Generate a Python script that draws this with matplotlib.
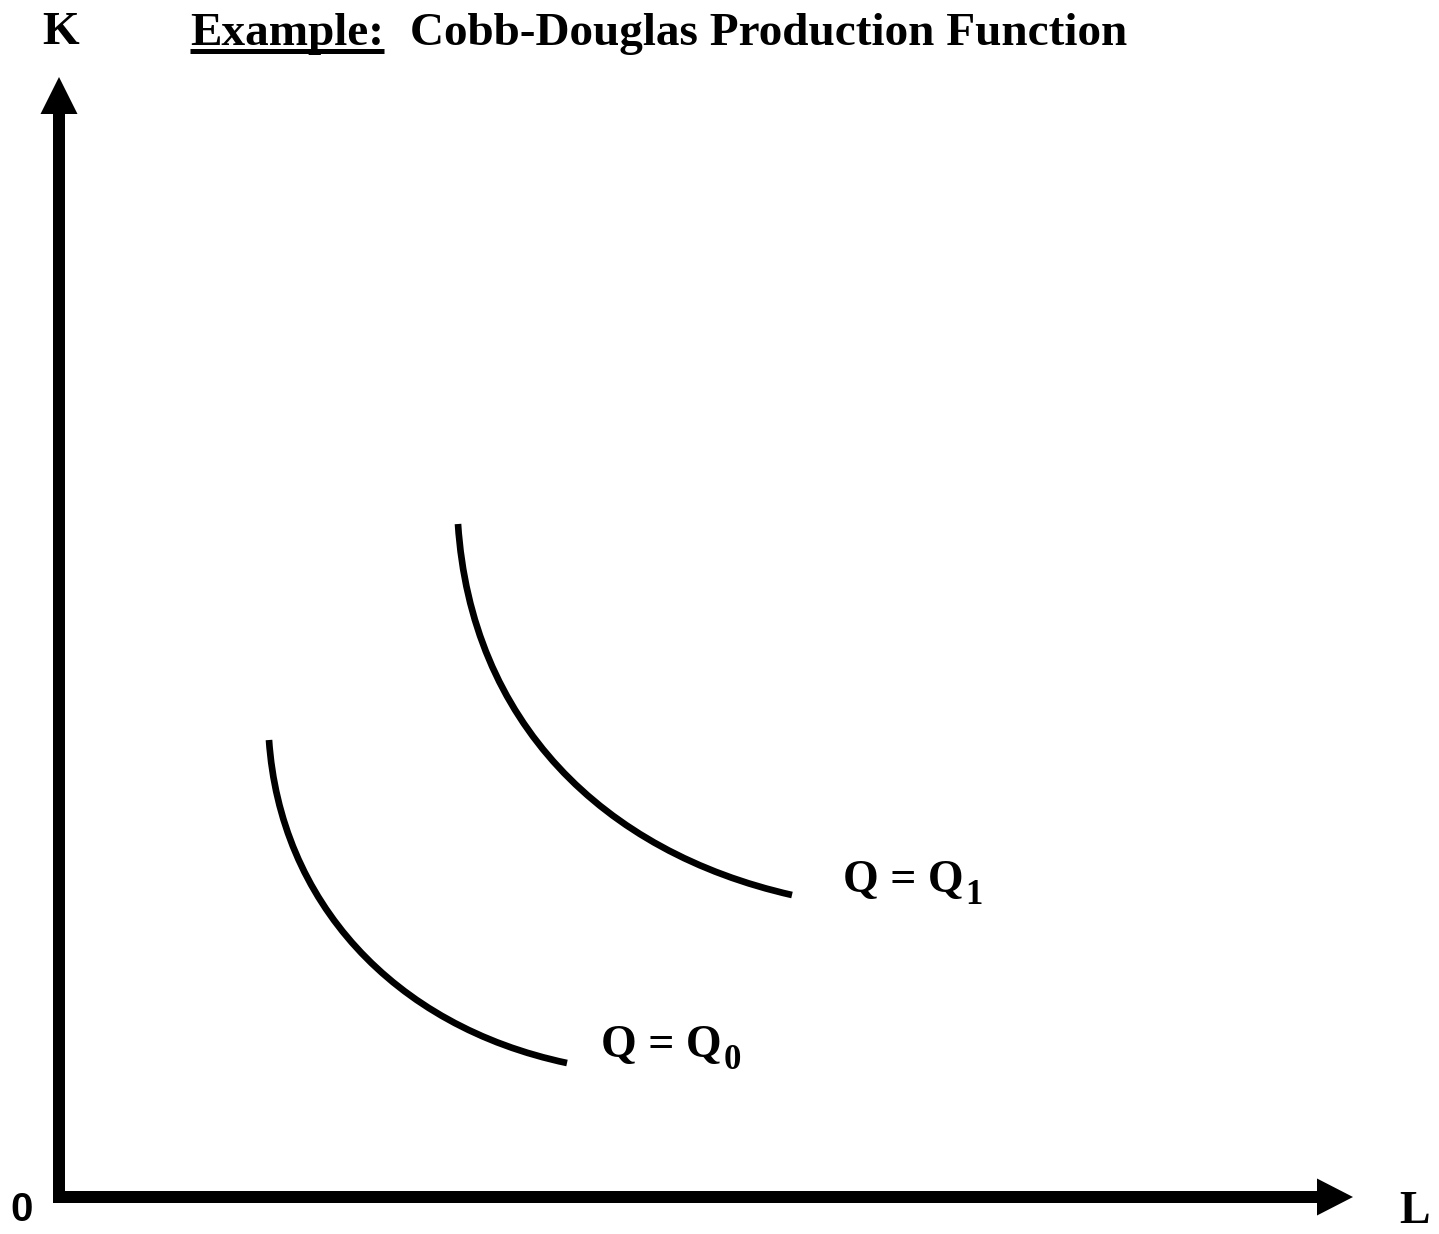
import numpy as np
import matplotlib
matplotlib.use('Agg')
import matplotlib.pyplot as plt
from matplotlib.path import Path
from matplotlib.patches import PathPatch

# isoquants as cubic Bezier control points,
# (L, K) with the origin at the axes corner
q1_L = [399, 412, 543, 733]
q1_K = [673, 476, 345, 302]
q0_L = [210, 221, 333, 508]
q0_K = [457, 297, 171, 134]

L_max = 1294
K_max = 1120

serif = 'Liberation Serif'

fig = plt.figure(figsize=(14.39, 12.34), dpi=100)
ax = fig.add_axes([0, 0, 1, 1])
ax.set_xlim(-59, 1380)
ax.set_ylim(-37, 1197)
ax.axis('off')

# axes with arrow heads
ax.arrow(0, -6, 0, K_max + 6, width=12, head_width=37, head_length=37,
         length_includes_head=True, fc='black', ec='none')
ax.arrow(-6, 0, L_max + 6, 0, width=12, head_width=37, head_length=36,
         length_includes_head=True, fc='black', ec='none')

codes = [Path.MOVETO, Path.CURVE4, Path.CURVE4, Path.CURVE4]
for Ls, Ks in [(q1_L, q1_K), (q0_L, q0_K)]:
    p = Path(np.column_stack([Ls, Ks]), codes)
    ax.add_patch(PathPatch(p, fill=False, ec='black', lw=4.8, capstyle='butt'))


def q_label(x, y, sub):
    t = ax.text(x, y, 'Q = Q', family=serif, weight='bold', fontsize=33,
                ha='left', va='baseline')
    fig.canvas.draw()
    bb = t.get_window_extent().transformed(ax.transData.inverted())
    ax.text(bb.x1 + 2, y - 12, sub, family=serif, weight='bold', fontsize=25,
            ha='left', va='baseline')


q_label(784, 305, '1')
q_label(542, 140, '0')

ax.text(2, 1153, 'K', family=serif, weight='bold', fontsize=34,
        ha='center', va='baseline')
ax.text(1340, -36, 'L', family=serif, weight='bold', fontsize=33,
        ha='left', va='bottom')
ax.text(-37, -24, '0', family='Liberation Sans', weight='bold', fontsize=29,
        ha='center', va='baseline')

t1 = ax.text(131, 1152, 'Example:', family=serif, weight='bold', fontsize=34,
             ha='left', va='baseline')
ax.text(351, 1152, 'Cobb-Douglas Production Function', family=serif,
        weight='bold', fontsize=34, ha='left', va='baseline')

# underline under "Example:"
fig.canvas.draw()
bb = t1.get_window_extent().transformed(ax.transData.inverted())
ax.plot([bb.x0, bb.x1], [1146.5, 1146.5], color='black', lw=3.6,
        solid_capstyle='butt')

fig.savefig('out.png', dpi=100)
